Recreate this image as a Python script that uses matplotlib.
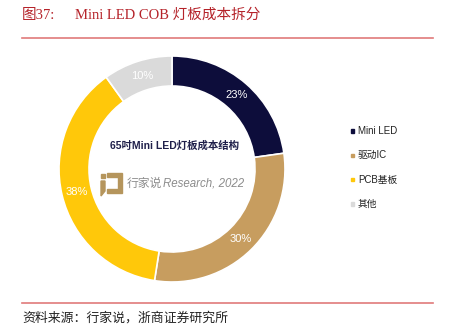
import matplotlib.pyplot as plt
from matplotlib.patches import Rectangle, Polygon
import numpy as np

plt.rcParams['font.family'] = ['Liberation Sans', 'Noto Sans CJK SC', 'DejaVu Sans']

categories = ['Mini LED', '驱动IC', 'PCB基板', '其他']
shares = [23, 30, 38, 10]
colors = ['#0d0d3b', '#c79d5f', '#ffc80a', '#dadada']

W, H = 451, 336
fig = plt.figure(figsize=(W / 100, H / 100), dpi=100)
ax = fig.add_axes([0, 0, 1, 1])

cx, cy, R = 172, H - 169, 113
ring = 30
wedges, _ = ax.pie(shares, colors=colors, startangle=90, counterclock=False,
                   center=(cx, cy), radius=R, frame=True,
                   wedgeprops=dict(width=ring, edgecolor='white', linewidth=1.2))
ax.set_xlim(0, W)
ax.set_ylim(0, H)
ax.set_aspect('equal')
ax.axis('off')

# value labels in the middle of the ring
for w, v in zip(wedges, shares):
    ang = np.deg2rad((w.theta1 + w.theta2) / 2)
    r = R - ring / 2
    ax.text(cx + r * np.cos(ang), cy + r * np.sin(ang), f'{v}%',
            ha='center', va='center', color='white', fontsize=8)

# centre caption and watermark
ax.text(174, H - 146, '65吋Mini LED灯板成本结构', ha='center', va='center',
        fontsize=7.5, fontweight='bold', color='#1f1f4a')
logo = '#b5955c'
ax.add_patch(Rectangle((101, H - 178), 4, 4, color=logo))
ax.add_patch(Polygon([(101, H - 181), (105, H - 181), (105, H - 191),
                      (101, H - 196)], color=logo))
ax.add_patch(Polygon([(107, H - 173), (122, H - 173), (122, H - 193),
                      (107, H - 193), (107, H - 189), (118, H - 189),
                      (118, H - 177), (107, H - 177)], color=logo))
ax.text(127, H - 183, '行家说', ha='left', va='center', fontsize=8.5,
        color='#8c8c8c', family=['Noto Sans CJK SC'], fontweight='light')
ax.text(163, H - 183, 'Research, 2022', ha='left', va='center', fontsize=8.3,
        color='#8c8c8c', style='italic', family=['Liberation Sans'])

# legend
for i, (lab, c) in enumerate(zip(categories, colors)):
    y = H - (131 + i * 24.3)
    ax.add_patch(Rectangle((351, y - 1.7), 3.4, 3.4, color=c))
    ax.text(358, y, lab, ha='left', va='center', fontsize=7, color='#222222')

# header and footer
red = '#b5232a'
serif = ['Liberation Serif', 'Noto Sans CJK SC']
ax.text(22, H - 15, '图37:', ha='left', va='center', fontsize=10.5, color=red,
        family=serif)
ax.text(75, H - 15, 'Mini LED COB 灯板成本拆分', ha='left', va='center',
        fontsize=10.5, color=red, family=serif)
ax.plot([22, 433], [H - 38, H - 38], color='#e07a7a', lw=1.2)
ax.plot([22, 433], [H - 303, H - 303], color='#e07a7a', lw=1.2)
ax.text(22, H - 318, '资料来源：行家说，浙商证券研究所', ha='left', va='center',
        fontsize=9.3, color='#222222', family=['Noto Sans CJK SC'])

fig.savefig('out.png', dpi=100)
